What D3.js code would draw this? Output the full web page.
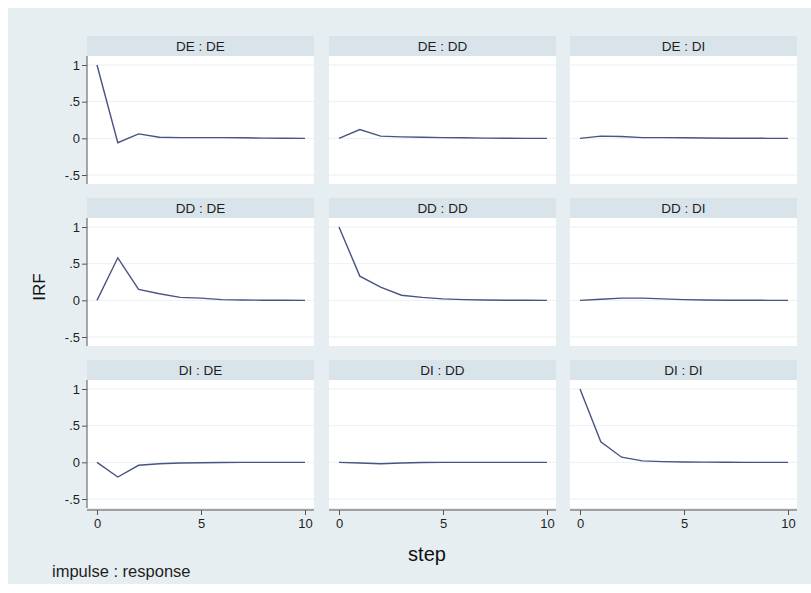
<!DOCTYPE html>
<html>
<head>
<meta charset="utf-8">
<script src="https://cdn.jsdelivr.net/npm/d3@7"></script>
<style>
  body { margin: 0; background: #fff; }
  text { font-family: "Liberation Sans", Arial, sans-serif; }
</style>
</head>
<body>
<script>
// data: impulse : response, steps 0..10
var steps = [0, 1, 2, 3, 4, 5, 6, 7, 8, 9, 10];
var panelTitles = ["DE : DE", "DE : DD", "DE : DI",
                   "DD : DE", "DD : DD", "DD : DI",
                   "DI : DE", "DI : DD", "DI : DI"];
var irfDEDE = [1, -0.06, 0.06, 0.015, 0.01, 0.01, 0.01, 0.008, 0.003, 0.001, 0];
var irfDEDD = [0, 0.12, 0.03, 0.02, 0.015, 0.01, 0.008, 0.003, 0.001, 0, 0];
var irfDEDI = [0, 0.03, 0.025, 0.01, 0.01, 0.008, 0.004, 0.002, 0.001, 0, 0];
var irfDDDE = [0, 0.58, 0.15, 0.09, 0.04, 0.03, 0.01, 0.005, 0.002, 0.001, 0];
var irfDDDD = [1, 0.33, 0.18, 0.07, 0.04, 0.02, 0.01, 0.005, 0.002, 0.001, 0];
var irfDDDI = [0, 0.015, 0.03, 0.03, 0.02, 0.01, 0.005, 0.002, 0.001, 0, 0];
var irfDIDE = [0, -0.2, -0.04, -0.02, -0.01, -0.005, -0.002, -0.001, 0, 0, 0];
var irfDIDD = [0, -0.01, -0.02, -0.01, -0.003, -0.001, 0, 0, 0, 0, 0];
var irfDIDI = [1, 0.28, 0.07, 0.02, 0.01, 0.005, 0.003, 0.001, 0, 0, 0];
var series = [irfDEDE, irfDEDD, irfDEDI, irfDDDE, irfDDDD, irfDDDI, irfDIDE, irfDIDD, irfDIDI];
var yTicks = [1, 0.5, 0, -0.5];
var yTickLabels = ["1", ".5", "0", "-.5"];
var xTicks = [0, 5, 10];

var W = 811, H = 593;
var svg = d3.select("body").append("svg")
    .attr("width", W)
    .attr("height", H);

// outer light background
svg.append("rect")
    .attr("x", 8).attr("y", 8)
    .attr("width", W - 8).attr("height", 576)
    .attr("fill", "#e7eef2");

var colX = [87, 329, 570];
var rowY = [36, 198, 360];
var panelW = 227, headH = 20, plotH = 128;

var x = d3.scaleLinear().domain([0, 10]).range([10, panelW - 9]);
var y = d3.scaleLinear().domain([1, -0.5]).range([9, 119]);

var line = d3.line()
    .x(function(d, i) { return x(steps[i]); })
    .y(function(d) { return y(d); });

series.forEach(function(vals, k) {
  var r = Math.floor(k / 3), c = k % 3;
  var g = svg.append("g")
      .attr("transform", "translate(" + colX[c] + "," + rowY[r] + ")");

  // header strip
  g.append("rect")
      .attr("width", panelW).attr("height", headH)
      .attr("fill", "#d9e4ea");
  g.append("text")
      .attr("x", panelW / 2).attr("y", headH / 2 + 5)
      .attr("text-anchor", "middle")
      .attr("font-size", 13.5)
      .attr("fill", "#1e1e1e")
      .text(panelTitles[k]);

  var p = g.append("g").attr("transform", "translate(0," + headH + ")");
  p.append("rect")
      .attr("width", panelW).attr("height", plotH)
      .attr("fill", "#fff");

  // faint gridlines
  p.selectAll(".grid")
      .data(yTicks)
      .enter()
      .append("line")
      .attr("x1", 0).attr("x2", panelW)
      .attr("y1", function(d) { return y(d); })
      .attr("y2", function(d) { return y(d); })
      .style("stroke", "#e9f0f3")
      .style("stroke-width", 1);

  p.append("path")
      .datum(vals)
      .attr("d", line)
      .attr("fill", "none")
      .style("stroke", "#4a5382")
      .style("stroke-width", 1.4);

  // y axis on left column
  if (c == 0) {
    var ya = d3.axisLeft(y)
        .tickValues(yTicks)
        .tickSize(5)
        .tickFormat(function(d, i) { return yTickLabels[i]; });
    var yg = p.append("g").call(ya);
    yg.select(".domain").attr("d", "M0,0V" + plotH).style("stroke", "#555");
    yg.selectAll(".tick line").style("stroke", "#555");
    yg.selectAll(".tick text")
        .attr("font-size", 13)
        .attr("font-family", "Liberation Sans, Arial, sans-serif")
        .attr("fill", "#1e1e1e")
        .attr("x", -7);
  }

  // x axis on bottom row
  if (r == 2) {
    var xa = d3.axisBottom(x)
        .tickValues(xTicks)
        .tickSize(5)
        .tickFormat(d3.format("d"));
    var xg = p.append("g")
        .attr("transform", "translate(0," + (plotH + 2) + ")")
        .call(xa);
    xg.select(".domain").attr("d", "M0,0H" + panelW).style("stroke", "#555");
    xg.selectAll(".tick line").style("stroke", "#555");
    xg.selectAll(".tick text")
        .attr("font-size", 13)
        .attr("font-family", "Liberation Sans, Arial, sans-serif")
        .attr("fill", "#1e1e1e")
        .attr("y", 9);
  }
});

// axis titles
svg.append("text")
    .attr("transform", "translate(45,287) rotate(-90)")
    .attr("text-anchor", "middle")
    .attr("font-size", 17)
    .attr("fill", "#111")
    .text("IRF");

svg.append("text")
    .attr("x", 427).attr("y", 561)
    .attr("text-anchor", "middle")
    .attr("font-size", 20)
    .attr("fill", "#111")
    .text("step");

svg.append("text")
    .attr("x", 52).attr("y", 577)
    .attr("font-size", 16.5)
    .attr("fill", "#1e1e1e")
    .text("impulse : response");
</script>
</body>
</html>
